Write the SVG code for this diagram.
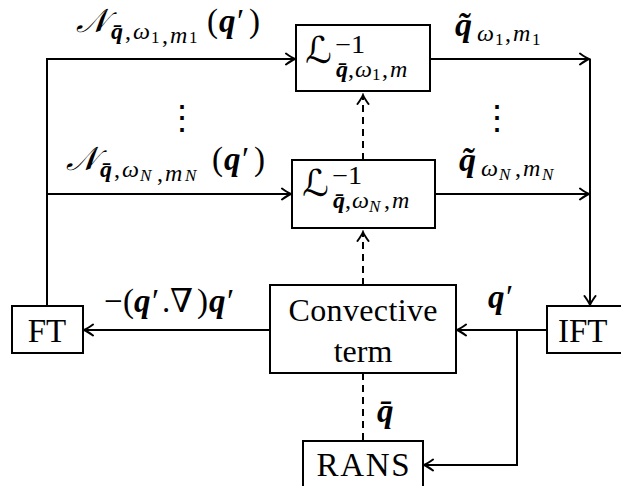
<svg xmlns="http://www.w3.org/2000/svg" width="621" height="486" viewBox="0 0 621 486">
<style>
.t{font-family:"Liberation Serif","DejaVu Serif",serif;fill:#000}
.b{font-weight:bold;font-style:italic}
.i{font-style:italic}
.cal{font-family:"DejaVu Serif","DejaVu Sans",serif;font-style:italic}
.box{fill:#fff;stroke:#000;stroke-width:2}
.ln{fill:none;stroke:#000;stroke-width:2}
.arr{marker-end:url(#ah)}
.dash{stroke-dasharray:7 5}
</style>
<defs>
<marker id="ah" markerUnits="userSpaceOnUse" viewBox="-12 -7 14 14" refX="0" refY="0" markerWidth="14" markerHeight="14" orient="auto">
<path d="M-9,-5.5 Q-3,-1.2 0,0 Q-3,1.2 -9,5.5" fill="none" stroke="#000" stroke-width="2" stroke-linecap="round"/>
</marker>
</defs>
<g id="connectors">
<path class="ln arr" d="M47,306 V59 H295"/>
<path class="ln arr" d="M47,194 H291"/>
<path class="ln arr" d="M430,59 H589"/>
<path class="ln arr" d="M435,194 H589"/>
<path class="ln arr" d="M590,59 V305"/>
<path class="ln arr" d="M547,330 H457"/>
<path class="ln arr" d="M517,330 V465 H424"/>
<path class="ln arr" d="M270,330 H84"/>
<path class="ln dash arr" d="M363,160 V95"/>
<path class="ln dash arr" d="M363,285 V232"/>
<path class="ln dash" d="M363,373 V441"/>
</g>
<g id="L1">
<rect class="box" x="296" y="25" width="134" height="66"/>
<text class="t cal" x="305" y="63" font-size="37">ℒ</text>
<text class="t" x="335" y="53" font-size="25" textLength="30" lengthAdjust="spacingAndGlyphs">−1</text>
<text class="t" y="77" font-size="24"><tspan x="336" class="b">q̄</tspan><tspan x="348">,</tspan><tspan x="355" class="i">ω</tspan><tspan x="372" font-size="17" dy="3">1</tspan><tspan x="382" dy="-3">,</tspan><tspan x="390" class="i">m</tspan></text>
</g>
<g id="LN">
<rect class="box" x="292" y="160" width="143" height="68"/>
<text class="t cal" x="302" y="196" font-size="37">ℒ</text>
<text class="t" x="332" y="184" font-size="25" textLength="30" lengthAdjust="spacingAndGlyphs">−1</text>
<text class="t" y="208" font-size="24"><tspan x="333" class="b">q̄</tspan><tspan x="345">,</tspan><tspan x="352" class="i">ω</tspan><tspan x="369" font-size="17" dy="4" class="i">N</tspan><tspan x="384" dy="-4">,</tspan><tspan x="392" class="i">m</tspan></text>
</g>
<g id="conv">
<rect class="box" x="270" y="285" width="186" height="88"/>
<text class="t" x="363" y="321" font-size="32" text-anchor="middle" textLength="149" lengthAdjust="spacing">Convective</text>
<text class="t" x="363" y="362" font-size="32" text-anchor="middle">term</text>
</g>
<g id="FT">
<rect class="box" x="12" y="306" width="71" height="47"/>
<text class="t" x="47" y="342" font-size="33" text-anchor="middle">FT</text>
</g>
<g id="IFT">
<rect class="box" x="547" y="306" width="80" height="47"/>
<text class="t" x="558" y="342" font-size="33">IFT</text>
</g>
<g id="RANS">
<rect class="box" x="303" y="441" width="120" height="50"/>
<text class="t" x="363" y="476" font-size="33" text-anchor="middle" textLength="93" lengthAdjust="spacing">RANS</text>
</g>
<g id="labels">
<text class="t" y="32" font-size="33"><tspan x="76" class="cal">𝒩</tspan><tspan font-size="24" y="39"><tspan x="111" class="b">q̄</tspan><tspan x="125">,</tspan><tspan x="133" class="i">ω</tspan><tspan x="151" font-size="17" y="43">1</tspan><tspan x="162">,</tspan><tspan x="170" class="i">m</tspan><tspan x="189" font-size="17" y="43">1</tspan></tspan><tspan x="207" y="32">(</tspan><tspan x="219" class="b">q</tspan><tspan x="237">′</tspan><tspan x="249">)</tspan></text>
<text class="t" y="170" font-size="33"><tspan x="66" class="cal">𝒩</tspan><tspan font-size="24" y="177"><tspan x="100" class="b">q̄</tspan><tspan x="114">,</tspan><tspan x="122" class="i">ω</tspan><tspan x="140" font-size="17" y="181" class="i">N</tspan><tspan x="157">,</tspan><tspan x="165" class="i">m</tspan><tspan x="185" font-size="17" y="181" class="i">N</tspan></tspan><tspan x="212" y="170">(</tspan><tspan x="224" class="b">q</tspan><tspan x="242">′</tspan><tspan x="254">)</tspan></text>
<text class="t" font-size="34"><tspan x="455" y="36" class="b">q̃</tspan><tspan font-size="24" x="477" y="41"><tspan class="i">ω</tspan><tspan x="495" font-size="17" y="45">1</tspan><tspan x="505" y="41">,</tspan><tspan x="513" class="i">m</tspan><tspan x="532" font-size="17" y="45">1</tspan></tspan></text>
<text class="t" font-size="34"><tspan x="459" y="171" class="b">q̃</tspan><tspan font-size="24" x="481" y="176"><tspan class="i">ω</tspan><tspan x="499" font-size="17" y="180" class="i">N</tspan><tspan x="515" y="176">,</tspan><tspan x="523" class="i">m</tspan><tspan x="542" font-size="17" y="180" class="i">N</tspan></tspan></text>
<text class="t" y="312" font-size="33"><tspan x="104">−</tspan><tspan x="123">(</tspan><tspan x="134" class="b">q</tspan><tspan x="152">′</tspan><tspan x="162">.</tspan><tspan x="170">∇</tspan><tspan x="197">)</tspan><tspan x="209" class="b">q</tspan><tspan x="227">′</tspan></text>
<text class="t" y="308" font-size="33"><tspan x="488" class="b">q</tspan><tspan x="506">′</tspan></text>
<text class="t" x="377" y="422" font-size="33"><tspan class="b">q̄</tspan></text>
<text class="t" x="182" y="129" font-size="34" text-anchor="middle">⋮</text>
<text class="t" x="497" y="129" font-size="34" text-anchor="middle">⋮</text>
</g>
</svg>
